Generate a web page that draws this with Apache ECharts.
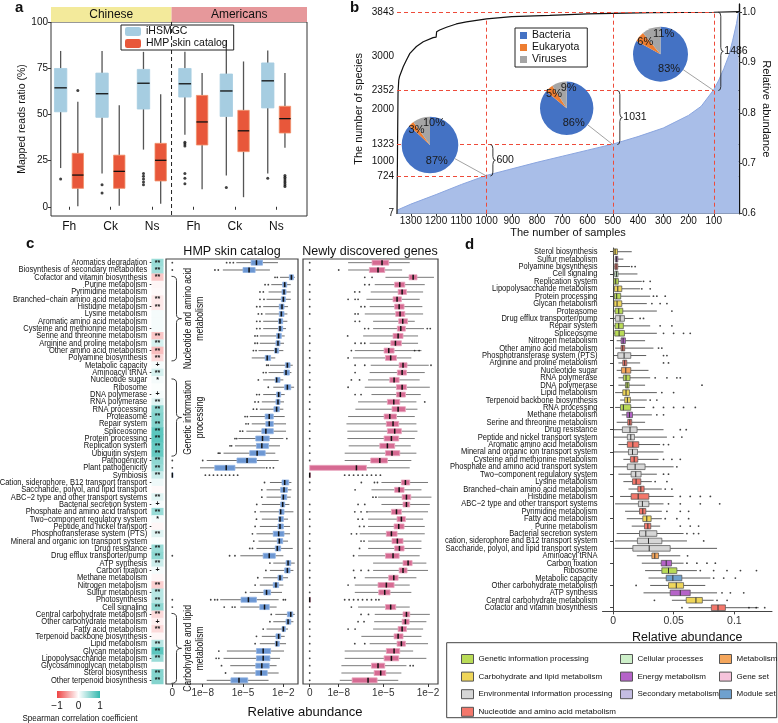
<!DOCTYPE html>
<html>
<head>
<meta charset="utf-8">
<script src="https://cdn.jsdelivr.net/npm/echarts@6/dist/echarts.min.js"></script>
<style>
html, body { margin: 0; padding: 0; background: #fff; }
#chart { width: 778px; height: 723px; }
</style>
</head>
<body>
<div id="chart"></div>
<script>
const FONT = "'Liberation Sans', Arial, sans-serif";

// ---- panel a: mapped reads ratio (%) ----
const aGroups = ["Fh", "Ck", "Ns", "Fh", "Ck", "Ns"];
// [whisker low, Q1, median, Q3, whisker high]
const aIHSMGC = [
  [21, 51.5, 64.5, 75, 84.5], [18, 48.5, 61.3, 72.5, 84.5], [31, 53, 67, 74.5, 84],
  [39, 59.5, 66.7, 75, 84], [17, 49, 62.8, 72, 90.5], [18, 53.6, 68.3, 78, 84.7]
];
const aHMP = [
  [0.3, 10, 17.2, 29, 57], [0.5, 10, 19.2, 28, 55], [1.6, 14, 25.2, 34.4, 61],
  [9.5, 33.5, 46, 60.4, 72.5], [5.2, 29.9, 41.2, 52.3, 78.8], [32, 40, 47.8, 54.5, 72.5]
];
const aIHSMGCOut = [[1, 15], [2, 12], [2, 7.5], [3, 12], [3, 13.5], [3, 15], [3, 16.5], [3, 18],
  [4, 33], [4, 34], [4, 35], [4, 12.5], [4, 15.5], [4, 18], [5, 10.5], [6, 15.5]];
const aHMPOut = [[1, 63], [6, 11], [6, 12], [6, 13], [6, 14], [6, 15], [6, 16], [6, 17]];

// ---- panel b: species accumulation ----
const bSampleTicks = [100, 200, 300, 400, 500, 600, 700, 800, 900, 1000, 1100, 1200, 1300];
const speciesTicks = [7, 724, 1000, 1323, 2000, 2352, 3000, 3843, 4000];
const abundTicks = [0.6, 0.7, 0.8, 0.9, 1.0];
const bAbundSamples = [1355, 1300, 1200, 1100, 1000, 900, 800, 700, 600, 500, 400, 300, 200, 150, 100, 80, 60, 40, 25, 10, 3, 0];
const bAbundance = [0.607, 0.619, 0.638, 0.658, 0.676, 0.689, 0.702, 0.714, 0.726, 0.738, 0.753, 0.770, 0.795, 0.813, 0.846, 0.865, 0.888, 0.914, 0.944, 0.977, 0.997, 1.0];
const bCurveSamples = [1355, 1353, 1351, 1348, 1345, 1330, 1318, 1304, 1278, 1251, 1212, 1200, 1198, 1186, 1159, 1120, 1080, 1000, 900, 750, 600, 500, 350, 100, 0];
const bSpecies = [7, 1200, 2300, 2550, 2620, 2810, 2930, 3060, 3190, 3280, 3360, 3370, 3470, 3505, 3557, 3620, 3658, 3715, 3760, 3785, 3811, 3823, 3836, 3843, 3853];
const guideSamples = [1000, 500, 100];
const guideSpecies = [724, 1323, 2352];
const guideTop = [3715, 3843, 3843];
const totalSpecies = 3843;
const gapLabels = ["600", "1031", "1486"];
const pieNames = ["Bacteria", "Eukaryota", "Viruses"];
const pieShares = [[87, 3, 10], [86, 5, 9], [83, 6, 11]];

// ---- panel c: KEGG module abundance (log10) ----
const cPathways = ["Aromatics degradation", "Biosynthesis of secondary metabolites", "Cofactor and vitamin biosynthesis",
  "Purine metabolism", "Pyrimidine metabolism", "Branched\u2212chain amino acid metabolism", "Histidine metabolism",
  "Lysine metabolism", "Aromatic amino acid metabolism", "Cysteine and methionine metabolism",
  "Serine and threonine metabolism", "Arginine and proline metabolism", "Other amino acid metabolism",
  "Polyamine biosynthesis", "Metabolic capacity", "Aminoacyl tRNA", "Nucleotide sugar", "Ribosome",
  "DNA polymerase", "RNA polymerase", "RNA processing", "Proteasome", "Repair system", "Spliceosome",
  "Protein processing", "Replication system", "Ubiquitin system", "Pathogenicity", "Plant pathogenicity",
  "Symbiosis", "Cation, siderophore, B12 transport transport", "Saccharide, polyol, and lipid transport",
  "ABC\u22122 type and other transport systems", "Bacterial secretion system", "Phosphate and amino acid transport",
  "Two\u2212component regulatory system", "Peptide and nickel transport", "Phosphotransferase system (PTS)",
  "Mineral and organic ion transport system", "Drug resistance", "Drug efflux transporter/pump", "ATP synthesis",
  "Carbon fixation", "Methane metabolism", "Nitrogen metabolism", "Sulfur metabolism", "Photosynthesis",
  "Cell signaling", "Central carbohydrate metabolism", "Other carbohydrate metabolism", "Fatty acid metabolism",
  "Terpenoid backbone biosynthesis", "Lipid metabolism", "Glycan metabolism", "Lipopolysaccharide metabolism",
  "Glycosaminoglycan metabolism", "Sterol biosynthesis", "Other terpenoid biosynthesis"];
const cCorr = [0.5, 0.45, -0.3, -0.05, -0.03, -0.12, -0.12, 0.05, 0.05, 0.05, -0.3, 0.2, -0.35, -0.2, 0.05,
  0.2, 0.05, 0.02, 0.05, 0.15, 0.55, 0.6, 0.6, 0.8, 0.8, 0.75, 0.75, 0.55, 0.5, 0.25, 0.08, -0.03, 0.15,
  0.05, 0.5, 0.05, -0.05, 0.15, 0.03, 0.5, 0.55, 0.25, 0.05, -0.05, -0.25, 0.35, 0.35, 0.55, -0.2, -0.08,
  -0.2, -0.05, 0.35, 0.8, 0.5, 0.02, 0.6, 0.6];
const cSig = ["**", "**", "**", "", "", "**", "**", "", "", "", "**", "**", "**", "**", "+", "**", "*", "", "+",
  "**", "**", "**", "**", "**", "**", "**", "**", "**", "**", "**", "", "", "**", "+", "**", "*", "", "**", "",
  "**", "**", "**", "+", "", "**", "**", "**", "**", "**", "+", "**", "", "**", "**", "**", "", "**", "**"];
// log10 relative abundance [low, Q1, median, Q3, high]; 0 marks zero abundance
const cHmp = [
  [-5.5, -4.4, -4.0, -3.55, -2.4], [-6.5, -5.0, -4.55, -4.1, -3.0], [-2.25, -1.55, -1.4, -1.25, -1.15],
  [-2.9, -2.05, -1.9, -1.75, -1.45], [-3.1, -2.1, -1.95, -1.8, -1.45], [-3.25, -2.15, -2.0, -1.85, -1.45],
  [-3.5, -2.3, -2.1, -1.95, -1.65], [-3.35, -2.3, -2.15, -1.95, -1.7], [-3.5, -2.35, -2.25, -2.05, -1.7],
  [-3.5, -2.35, -2.25, -2.05, -1.8], [-3.75, -2.5, -2.35, -2.15, -1.9], [-3.75, -2.55, -2.4, -2.25, -1.95],
  [-3.85, -2.65, -2.55, -2.35, -2.0], [-4.35, -3.35, -3.2, -2.95, -2.6], [-3.0, -1.85, -1.7, -1.5, -1.3],
  [-3.1, -1.95, -1.8, -1.55, -1.4], [-3.5, -2.6, -2.5, -2.25, -2.0], [-2.75, -1.9, -1.7, -1.45, -1.2],
  [-3.5, -2.5, -2.35, -2.2, -1.9], [-3.6, -2.55, -2.4, -2.25, -1.95], [-3.75, -2.7, -2.5, -2.3, -2.0],
  [-4.5, -3.35, -3.05, -2.75, -1.9], [-4.35, -3.3, -3.05, -2.75, -1.8], [-4.75, -3.6, -3.3, -2.75, -1.8],
  [-5.35, -4.05, -3.55, -3.05, -2.0], [-5.6, -4.0, -3.6, -3.1, -2.25], [-6.45, -4.5, -3.95, -3.35, -2.6],
  [-7.7, -5.45, -4.7, -4.0, -2.35], [-8.2, -7.1, -6.25, -5.6, -3.35], [0, 0, 0, 0, 0],
  [-3.0, -2.1, -1.9, -1.6, -1.4], [-3.25, -2.2, -1.95, -1.7, -1.4], [-3.25, -2.15, -2.0, -1.75, -1.45],
  [-3.6, -2.2, -2.05, -1.9, -1.55], [-3.75, -2.3, -2.2, -1.95, -1.25], [-3.6, -2.35, -2.25, -2.0, -1.65],
  [-3.75, -2.4, -2.25, -2.0, -1.5], [-4.0, -2.75, -2.35, -1.95, -1.5], [-3.85, -2.45, -2.3, -2.05, -1.65],
  [-4.0, -2.6, -2.45, -2.2, -1.3], [-5.2, -3.5, -3.05, -2.6, -2.0], [-2.75, -1.8, -1.65, -1.45, -1.15],
  [-3.0, -1.9, -1.7, -1.5, -1.25], [-3.5, -2.4, -2.25, -2.05, -1.65], [-3.75, -2.75, -2.55, -2.35, -2.0],
  [-4.5, -3.45, -3.25, -2.95, -2.1], [-6.7, -5.15, -4.6, -4.0, -2.35], [-5.2, -3.75, -3.4, -3.05, -2.5],
  [-2.6, -1.7, -1.45, -1.3, -1.15], [-2.75, -1.8, -1.65, -1.45, -1.25], [-3.25, -2.1, -2.0, -1.85, -1.65],
  [-3.6, -2.55, -2.35, -2.2, -1.9], [-3.75, -2.6, -2.5, -2.3, -1.8], [-6.2, -4.0, -3.5, -2.95, -1.95],
  [-6.45, -4.0, -3.5, -3.0, -2.25], [-5.95, -4.05, -3.6, -3.05, -2.5], [-5.7, -4.05, -3.65, -3.2, -2.35],
  [-7.7, -5.9, -5.3, -4.65, -3.1]
];
const cHmpOut = [[-6.22, -5.97, -5.72], [-7.09, -6.84], [-2.62, -2.45], [-3.36, -3.12], [-3.74, -3.49],
  [-3.74, -3.44], [-3.98, -3.74], [-3.86, -3.61], [-3.98, -3.74], [-3.98, -3.74], [-4.11, -3.93],
  [-4.11, -3.93], [-4.23, -4.03], [], [-3.24, -3.12], [-3.49, -3.29], [-3.86], [-3.12], [-3.98, -3.79],
  [-4.11, -3.86], [-4.23, -3.98], [-4.85, -4.68], [-4.78, -4.61], [-5.22, -5.03], [-5.6, -5.47, -1.74],
  [-5.97, -5.85], [-6.84, -6.72], [-8.0], [-3.24, -2.99, -2.74], [-7.8, -7.5, -7.2, -6.9, -6.6, -6.3, -6.0, -5.7, -5.4],
  [-3.4], [-3.6], [-3.6], [-3.98], [-4.1], [-4.0], [-4.1], [-4.3], [-4.2], [-4.5, -4.3], [-6.0, -5.6],
  [-3.0], [-3.3], [-3.9], [-4.1], [-4.8], [-7.4, -7.1, -6.9, -2.0, -1.85], [-6.4, -5.8, -5.6], [-2.9],
  [-3.0], [-3.5], [-4.0], [-4.1], [-6.8], [-7.0, -6.8], [-6.6], [-6.3], []];
const cHmpZeroRows = [0, 1, 27, 28, 40, 46, 47];
const cNew = [
  [-7.37, -5.76, -5.09, -4.64, -3.23], [-7.37, -5.94, -5.36, -4.91, -3.74], [-4.86, -3.27, -3.0, -2.74, -1.6],
  [-5.58, -4.24, -3.9, -3.56, -2.22], [-5.85, -4.01, -3.74, -3.45, -2.33], [-6.14, -4.35, -4.08, -3.79, -2.56],
  [-5.92, -4.24, -3.94, -3.61, -2.38], [-6.25, -4.17, -3.88, -3.56, -2.33], [-5.69, -3.97, -3.7, -3.38, -2.89],
  [-5.69, -4.06, -3.83, -3.52, -2.27], [-6.36, -4.35, -4.01, -3.68, -2.67], [-5.92, -4.5, -4.19, -3.79, -2.67],
  [-6.92, -4.95, -4.64, -4.28, -2.44], [-7.04, -4.86, -4.51, -4.12, -3.12], [-5.85, -3.94, -3.68, -3.41, -1.95],
  [-5.92, -4.06, -3.74, -3.45, -2.22], [-6.03, -4.57, -4.28, -3.94, -2.56], [-6.25, -4.12, -3.74, -3.45, -1.88],
  [-5.8, -4.12, -3.86, -3.52, -2.49], [-6.7, -4.73, -4.3, -3.9, -2.78], [-6.88, -4.42, -4.01, -3.52, -2.71],
  [-7.37, -4.95, -4.57, -4.12, -2.89], [-7.48, -4.8, -4.35, -3.97, -2.78], [-7.42, -4.73, -4.24, -3.79, -2.71],
  [-7.42, -4.95, -4.46, -3.97, -2.89], [-7.33, -5.24, -4.73, -4.24, -3.16], [-7.6, -4.86, -4.42, -3.9, -2.78],
  [-7.6, -5.85, -5.24, -4.73, -3.12], [0, 0, -6.81, -6.14, -3.23], [0, 0, 0, 0, 0],
  [-5.13, -3.79, -3.52, -3.23, -2.0], [-5.8, -4.24, -3.94, -3.61, -2.44], [-5.36, -3.74, -3.45, -3.16, -1.77],
  [-5.13, -3.68, -3.45, -3.23, -1.88], [-6.03, -4.46, -4.12, -3.79, -2.0], [-6.03, -4.08, -3.79, -3.52, -2.33],
  [-6.03, -4.28, -3.97, -3.61, -2.22], [-6.59, -4.8, -4.46, -4.08, -2.22], [-6.03, -4.42, -4.06, -3.68, -2.44],
  [-6.03, -4.24, -3.92, -3.61, -2.44], [-6.7, -4.86, -4.35, -3.94, -2.56], [-5.69, -3.68, -3.34, -3.07, -2.11],
  [-5.69, -3.94, -3.68, -3.41, -2.0], [-6.25, -4.64, -4.3, -4.01, -2.78], [-6.92, -5.36, -4.8, -4.28, -3.23],
  [-6.92, -5.31, -4.91, -4.55, -3.12], [0, 0, 0, 0, 0], [-6.7, -4.86, -4.51, -4.17, -3.23],
  [-5.58, -3.68, -3.45, -3.23, -1.88], [-5.62, -3.74, -3.52, -3.27, -2.11], [-5.69, -4.01, -3.74, -3.45, -2.33],
  [-6.48, -4.28, -4.01, -3.68, -2.44], [-5.92, -4.08, -3.79, -3.52, -2.0], [-7.6, -4.8, -4.28, -3.9, -3.0],
  [-7.6, -4.95, -4.46, -3.97, -2.11], [-7.82, -5.8, -5.36, -4.91, -3.45], [-7.82, -5.62, -5.18, -4.84, -3.79],
  [-7.93, -7.1, -6.03, -5.42, -4.0]
];
const cNewOut = [[], [-8.0], [-6.25, -5.76], [-6.25, -5.95], [-6.92, -6.6], [-7.37, -6.9, -6.7], [-6.5, -6.25],
  [-6.9, -6.7], [-6.9, -6.6], [-6.25, -6.0, -2.05, -1.85], [-7.4], [-6.9, -6.5, -6.25], [-7.15, -2.9, -2.6],
  [-7.37], [-6.9, -6.25, -1.8], [-6.9], [-7.15, -6.6], [-7.37], [-6.9, -6.5], [-2.22], [], [], [], [], [], [],
  [], [], [], [-7.6, -7.3, -7.0, -6.7, -6.4, -6.1, -5.8, -5.5, -5.2], [-6.48, -5.6, -5.4], [-6.9], [-5.7, -5.5],
  [-6.7, -6.25], [-6.92, -6.5, -6.1], [-6.7, -6.4], [-6.6, -6.3], [-7.15, -6.8], [-6.5, -6.3], [-6.6], [-7.0],
  [], [-7.0, -6.5, -6.0], [-6.92], [-7.37], [], [-7.6, -7.3, -7.0, -6.7, -6.4, -6.1, -5.8, -5.5, -5.3], [-7.15],
  [-6.5, -6.0], [-6.7, -6.3], [-7.37, -6.9], [], [-6.92, -6.25], [], [], [-3.2, -3.0], [], []];
const cNewNoZeroRows = [2, 8, 28, 29, 32, 46];
const cGroupLabels = ["Nucleotide and amino acid\nmetabolism", "Genetic information\nprocessing", "Carbohydrate and lipid\nmetabolism"];
const cGroupRows = [[2, 13], [16, 26], [48, 57]];
const corrTicks = [-1, 0, 1];

// ---- panel d: relative abundance by category ----
const dGroups = ["Genetic information processing", "Carbohydrate and lipid metabolism",
  "Environmental information processing", "Nucleotide and amino acid metabolism", "Cellular processes",
  "Energy metabolism", "Secondary metabolism", "Metabolism", "Gene set", "Module set"];
const dGroupColors = ["#B9DB57", "#EFD65A", "#D6D6D6", "#F3776B", "#CDEFC9", "#B563C8", "#C4BDE2", "#F4A65C", "#F6C3DB", "#6FA1CE"];
const dPathways = ["Sterol biosynthesis", "Sulfur metabolism", "Polyamine biosynthesis", "Cell signaling",
  "Replication system", "Lipopolysaccharide metabolism", "Protein processing", "Glycan metabolism", "Proteasome",
  "Drug efflux transporter/pump", "Repair system", "Spliceosome", "Nitrogen metabolism", "Other amino acid metabolism",
  "Phosphotransferase system (PTS)", "Arginine and proline metabolism", "Nucleotide sugar", "RNA polymerase",
  "DNA polymerase", "Lipid metabolism", "Terpenoid backbone biosynthesis", "RNA processing", "Methane metabolism",
  "Serine and threonine metabolism", "Drug resistance", "Peptide and nickel transport system",
  "Aromatic amino acid metabolism", "Mineral and organic ion transport system", "Cysteine and methionine metabolism",
  "Phosphate and amino acid transport system", "Two\u2212component regulatory system", "Lysine metabolism",
  "Branched\u2212chain amino acid metabolism", "Histidine metabolism", "ABC\u22122 type and other transport systems",
  "Pyrimidine metabolism", "Fatty acid metabolism", "Purine metabolism", "Bacterial secretion system",
  "cation, siderophore and B12 transport system", "Saccharide, polyol, and lipid transport system",
  "Aminoacyl tRNA", "Carbon fixation", "Ribosome", "Metabolic capacity", "Other carbohydrate metabolism",
  "ATP synthesis", "Central carbohydrate metabolism", "Cofactor and vitamin biosynthesis"];
const dRowGroup = [1, 5, 3, 4, 0, 1, 0, 1, 0, 2, 0, 0, 5, 3, 2, 3, 7, 0, 0, 1, 1, 0, 5, 3, 2, 2, 3, 2, 3, 2,
  2, 3, 3, 3, 2, 3, 1, 3, 2, 2, 2, 7, 5, 0, 9, 1, 5, 1, 3];
const dStats = [
  [0.0000, 0.0003, 0.0017, 0.0036, 0.0154], [0.0014, 0.0019, 0.0028, 0.0039, 0.0085], [0.0011, 0.0014, 0.0025, 0.0039, 0.0140],
  [0.0003, 0.0014, 0.0028, 0.0041, 0.0201], [0.0003, 0.0006, 0.0022, 0.0044, 0.0237], [0.0003, 0.0011, 0.0039, 0.0072, 0.0223],
  [0.0003, 0.0011, 0.0030, 0.0063, 0.0306], [0.0003, 0.0008, 0.0033, 0.0072, 0.0278], [0.0003, 0.0017, 0.0047, 0.0080, 0.0361],
  [0.0003, 0.0019, 0.0058, 0.0094, 0.0168], [0.0003, 0.0017, 0.0047, 0.0085, 0.0306], [0.0003, 0.0014, 0.0050, 0.0094, 0.0361],
  [0.0030, 0.0066, 0.0083, 0.0102, 0.0264], [0.0017, 0.0066, 0.0080, 0.0096, 0.0333], [0.0003, 0.0039, 0.0091, 0.0146, 0.0273],
  [0.0044, 0.0080, 0.0096, 0.0113, 0.0223], [0.0030, 0.0069, 0.0105, 0.0146, 0.0292], [0.0044, 0.0085, 0.0107, 0.0140, 0.0306],
  [0.0044, 0.0102, 0.0116, 0.0132, 0.0264], [0.0017, 0.0080, 0.0107, 0.0135, 0.0361], [0.0058, 0.0096, 0.0118, 0.0143, 0.0278],
  [0.0017, 0.0061, 0.0085, 0.0146, 0.0264], [0.0072, 0.0113, 0.0135, 0.0160, 0.0320], [0.0030, 0.0121, 0.0138, 0.0154, 0.0264],
  [0.0003, 0.0077, 0.0140, 0.0198, 0.0416], [0.0003, 0.0118, 0.0146, 0.0176, 0.0444], [0.0044, 0.0118, 0.0163, 0.0212, 0.0388],
  [0.0003, 0.0127, 0.0160, 0.0201, 0.0416], [0.0085, 0.0143, 0.0174, 0.0204, 0.0375], [0.0003, 0.0118, 0.0182, 0.0264, 0.0499],
  [0.0044, 0.0149, 0.0187, 0.0231, 0.0361], [0.0085, 0.0160, 0.0190, 0.0229, 0.0320], [0.0127, 0.0204, 0.0229, 0.0256, 0.0402],
  [0.0058, 0.0149, 0.0207, 0.0295, 0.0499], [0.0017, 0.0209, 0.0242, 0.0295, 0.0416], [0.0099, 0.0218, 0.0245, 0.0270, 0.0402],
  [0.0113, 0.0245, 0.0278, 0.0314, 0.0402], [0.0154, 0.0259, 0.0287, 0.0311, 0.0388], [0.0030, 0.0218, 0.0270, 0.0361, 0.0581],
  [0.0017, 0.0201, 0.0292, 0.0402, 0.0609], [0.0011, 0.0163, 0.0298, 0.0471, 0.0857], [0.0196, 0.0320, 0.0344, 0.0375, 0.0554],
  [0.0237, 0.0397, 0.0438, 0.0482, 0.0581], [0.0264, 0.0402, 0.0457, 0.0526, 0.0691], [0.0292, 0.0438, 0.0493, 0.0567, 0.0802],
  [0.0306, 0.0457, 0.0521, 0.0581, 0.0760], [0.0251, 0.0471, 0.0554, 0.0636, 0.0857], [0.0485, 0.0603, 0.0683, 0.0736, 0.0829],
  [0.0622, 0.0810, 0.0865, 0.0926, 0.1200]
];
const dOut = [[], [], [0.0154, 0.0182], [], [0.0251, 0.0306], [0.0237, 0.0306], [0.0333, 0.0361, 0.0430],
  [0.0320, 0.0388, 0.0444], [0.0485], [0.0223, 0.0251], [0.0388, 0.0485], [0.0416, 0.0499, 0.0581, 0.0636], [],
  [0.0375, 0.0402], [0.0416, 0.0444], [0.0416, 0.0457], [], [0.0347, 0.0444, 0.0526, 0.0554], [0.0733],
  [0.0402, 0.0499], [0.0306, 0.0361], [0.0333, 0.0416, 0.0499, 0.0581, 0.0678], [0.0361, 0.0416], [],
  [0.0554, 0.0603], [0.0499, 0.0567], [0.0416, 0.0457], [], [0.0416, 0.0485, 0.0554], [0.0526], [0.0416, 0.0457],
  [0.0347, 0.0444], [0.0430, 0.0485], [0.0554, 0.0636, 0.0719, 0.0802], [0.0457, 0.0554, 0.0719, 0.0879],
  [0.0444, 0.0554, 0.0623], [0.0430, 0.0526, 0.0623], [0.0554, 0.0636, 0.0705], [0.0609, 0.0664, 0.0705],
  [0.0747], [], [0.0614], [0.0609, 0.0691, 0.0774, 0.0843], [0.0719, 0.0829, 0.0939, 0.1050, 0.1182],
  [0.0829, 0.0912, 0.1008], [0.0190], [0.0898, 0.0967, 0.1077], [0.0341, 0.0857, 0.0940], [0.0568, 0.1120, 0.1180, 0.1250]];
const dTicks = [0, 0.05, 0.1];

// ---- layout / style ----
const HMP_ZERO = -10.26;
const NEW_ZERO = -9.95;
const HEAT_LEFT = 151.7;
const D_LEFT = 602.5;
const corrColors = ["#EE4444", "#FFFFFF", "#33B8AE"];
const pieColors = ["#4472C4", "#ED7D31", "#A5A5A5"];
const pieCenters = [[430, 145], [566.7, 108.3], [660.5, 54.2]];
const pieRadius = [28.3, 26.7, 27.5];
const braceAt = [985, 482, 82];
const aDivider = 3.47;

const chart = echarts.init(document.getElementById("chart"));

function vBox(offset, halfW, fill, stroke) {
  return function (params, api) {
    const x = api.value(0);
    const m = api.coord([x, api.value(3)]);
    const cx = m[0] + offset;
    const yLow = api.coord([x, api.value(1)])[1];
    const yQ1 = api.coord([x, api.value(2)])[1];
    const yQ3 = api.coord([x, api.value(4)])[1];
    const yHigh = api.coord([x, api.value(5)])[1];
    const w = { stroke: "#555", lineWidth: 1.3 };
    return {
      type: "group", children: [
        { type: "line", shape: { x1: cx, y1: yHigh, x2: cx, y2: yQ3 }, style: w },
        { type: "line", shape: { x1: cx, y1: yQ1, x2: cx, y2: yLow }, style: w },
        { type: "rect", shape: { x: cx - halfW, y: yQ3, width: 2 * halfW, height: yQ1 - yQ3 }, style: { fill: fill, stroke: stroke, lineWidth: 0.8 } },
        { type: "line", shape: { x1: cx - halfW, y1: m[1], x2: cx + halfW, y2: m[1] }, style: { stroke: "#111", lineWidth: 1.3 } }
      ]
    };
  };
}

function hBox(o) {
  return function (params, api) {
    const r = api.value(0);
    const pL = api.coord([api.value(1), r]);
    const p1 = api.coord([api.value(2), r]);
    const pM = api.coord([api.value(3), r]);
    const p3 = api.coord([api.value(4), r]);
    const pH = api.coord([api.value(5), r]);
    const cy = pM[1], h = o.h;
    const ws = { stroke: o.whisker, lineWidth: o.wl };
    return {
      type: "group", children: [
        { type: "line", shape: { x1: pL[0], y1: cy, x2: p1[0], y2: cy }, style: ws },
        { type: "line", shape: { x1: p3[0], y1: cy, x2: pH[0], y2: cy }, style: ws },
        { type: "rect", shape: { x: p1[0], y: cy - h / 2, width: Math.max(p3[0] - p1[0], 0.6), height: h },
          style: { fill: o.fill || api.visual("color"), stroke: o.stroke, lineWidth: o.sl } },
        { type: "line", shape: { x1: pM[0], y1: cy - h / 2, x2: pM[0], y2: cy + h / 2 }, style: { stroke: o.median, lineWidth: o.ml } }
      ]
    };
  };
}

const zeroTo = (z) => (v) => (v === 0 ? z : v);
const hmpVal = zeroTo(HMP_ZERO);
const newVal = zeroTo(NEW_ZERO);

const series = [];
// panel a
series.push({ name: "iHSMGC", type: "custom", xAxisIndex: 0, yAxisIndex: 0, itemStyle: { color: "#A6CDE1" },
  renderItem: vBox(-8.6, 6.2, "#A6CDE1", "#A6CDE1"), encode: { x: 0, y: [1, 2, 3, 4, 5] },
  data: aIHSMGC.map((s, i) => [i + 1].concat(s)), z: 3 });
series.push({ name: "HMP skin catalog", type: "custom", xAxisIndex: 0, yAxisIndex: 0, itemStyle: { color: "#E8573A" },
  renderItem: vBox(8.6, 5.7, "#E8573A", "#F0906A"), encode: { x: 0, y: [1, 2, 3, 4, 5] },
  data: aHMP.map((s, i) => [i + 1].concat(s)), z: 3 });
series.push({ type: "scatter", xAxisIndex: 0, yAxisIndex: 0, symbolSize: 3, symbolOffset: [-8.6, 0],
  itemStyle: { color: "#111" }, data: aIHSMGCOut, silent: true, z: 4 });
series.push({ type: "scatter", xAxisIndex: 0, yAxisIndex: 0, symbolSize: 3, symbolOffset: [8.6, 0],
  itemStyle: { color: "#111" }, data: aHMPOut, silent: true, z: 4 });

// panel b
const bMax = bAbundSamples[0];
series.push({ type: "line", xAxisIndex: 1, yAxisIndex: 2, showSymbol: false, silent: true, z: 1,
  lineStyle: { color: "#8AA5DF", width: 1 }, areaStyle: { color: "#A9BEE8", opacity: 1 },
  data: bAbundSamples.map((s, i) => [s, bAbundance[i]]) });
const guideLines = [[{ coord: [bMax, totalSpecies] }, { coord: [guideSamples[2], totalSpecies] }]];
guideSamples.forEach((s, k) => {
  guideLines.push([{ coord: [bMax, guideSpecies[k]] }, { coord: [s, guideSpecies[k]] }]);
  guideLines.push([{ coord: [s, speciesTicks[0]] }, { coord: [s, guideTop[k]] }]);
});
const speciesIdx = series.length;
series.push({ type: "line", xAxisIndex: 1, yAxisIndex: 1, showSymbol: false, silent: true, z: 3,
  lineStyle: { color: "#111", width: 1.2 }, data: bCurveSamples.map((s, i) => [s, bSpecies[i]]),
  markLine: { silent: true, symbol: ["none", "none"], label: { show: false }, animation: false,
    lineStyle: { color: "#EE4B3A", type: [4, 3], width: 1 }, data: guideLines } });
pieShares.forEach((sh, i) => {
  series.push({ type: "pie", center: pieCenters[i], radius: [0, pieRadius[i]], startAngle: 90, clockwise: true,
    silent: true, color: pieColors, z: 5, itemStyle: { borderWidth: 0 }, labelLine: { show: false },
    label: { show: true, position: "inside", fontSize: 11, color: "#1a1a1a",
      formatter: (p) => (p.dataIndex === 0 ? p.value + "%" : "") },
    data: pieNames.map((n, k) => ({ name: n, value: sh[k] })) });
});

// panel c
const heatIdx = series.length;
series.push({ type: "heatmap", xAxisIndex: 2, yAxisIndex: 3, silent: true,
  data: cCorr.map((v, i) => [0, i, v]),
  label: { show: true, fontSize: 7, fontWeight: "bold", color: "#111", formatter: (p) => cSig[p.data[1]] } });
series.push({ type: "custom", xAxisIndex: 3, yAxisIndex: 4, silent: true, encode: { x: [1, 2, 3, 4, 5], y: 0 },
  renderItem: hBox({ h: 5, fill: "#6C97D3", stroke: "#8FB1E2", sl: 0.8, whisker: "#6d6d6d", wl: 1, median: "#111", ml: 1.5 }),
  data: cHmp.map((s, i) => [i].concat(s.map(hmpVal))) });
const hmpPts = [];
cHmpOut.forEach((arr, i) => arr.forEach((v) => hmpPts.push([v, i])));
cHmpZeroRows.forEach((i) => hmpPts.push([HMP_ZERO, i]));
series.push({ type: "scatter", xAxisIndex: 3, yAxisIndex: 4, symbolSize: 1.8, silent: true, itemStyle: { color: "#111" }, data: hmpPts });
series.push({ type: "custom", xAxisIndex: 4, yAxisIndex: 5, silent: true, encode: { x: [1, 2, 3, 4, 5], y: 0 },
  renderItem: hBox({ h: 5, fill: "#D66A92", stroke: "#E9A3BC", sl: 0.8, whisker: "#7a7a7a", wl: 1, median: "#111", ml: 1.5 }),
  data: cNew.map((s, i) => [i].concat(s.map(newVal))) });
const newPts = [];
cNewOut.forEach((arr, i) => arr.forEach((v) => newPts.push([v, i])));
cPathways.forEach((p, i) => { if (cNewNoZeroRows.indexOf(i) < 0) newPts.push([NEW_ZERO, i]); });
series.push({ type: "scatter", xAxisIndex: 4, yAxisIndex: 5, symbolSize: 1.8, silent: true, itemStyle: { color: "#111" }, data: newPts });

// panel d
dGroups.forEach((g, k) => {
  series.push({ name: g, type: "custom", xAxisIndex: 5, yAxisIndex: 6, silent: true, itemStyle: { color: dGroupColors[k] },
    encode: { x: [1, 2, 3, 4, 5], y: 0 },
    renderItem: hBox({ h: 5.6, stroke: "#4d4d4d", sl: 0.7, whisker: "#333", wl: 0.8, median: "#333", ml: 1 }),
    data: dStats.map((s, i) => [i].concat(s)).filter((d, i) => dRowGroup[i] === k) });
});
const dPts = [];
dOut.forEach((arr, i) => arr.forEach((v) => dPts.push([v, i])));
series.push({ type: "scatter", xAxisIndex: 5, yAxisIndex: 6, symbolSize: 1.8, silent: true, itemStyle: { color: "#111" }, data: dPts });

const axisBase = {
  axisLine: { show: true, lineStyle: { color: "#333", width: 1 } },
  axisTick: { show: true, length: 3, lineStyle: { color: "#333" } },
  splitLine: { show: false }
};
const plain = (v) => String(v);
const legendBase = { selectedMode: false, orient: "vertical", textStyle: { color: "#111" } };
const dLegend = { itemWidth: 12, itemHeight: 9, itemGap: 7.6, icon: "rect", top: 649,
  itemStyle: { borderColor: "#555", borderWidth: 1 }, textStyle: { fontSize: 8, color: "#111" } };

const option = {
  animation: false,
  textStyle: { fontFamily: FONT, color: "#111" },
  grid: [
    { left: 51, top: 22, width: 256, height: 194, show: true, borderColor: "#333", borderWidth: 1 },
    { left: 397, top: 4, width: 342, height: 209.7 },
    { left: HEAT_LEFT, top: 259, width: 11.6, height: 425 },
    { left: 166, top: 259, width: 132, height: 425, show: true, borderColor: "#444", borderWidth: 1.2 },
    { left: 303, top: 259, width: 135, height: 425, show: true, borderColor: "#444", borderWidth: 1.2 },
    { left: D_LEFT, top: 248, width: 169.5, height: 363.4 }
  ],
  xAxis: [
    Object.assign({}, axisBase, { gridIndex: 0, type: "value", min: 0.56, max: 6.74, axisLine: { show: false },
      axisTick: { show: true, length: 3, customValues: [1, 2, 3, 4, 5, 6], lineStyle: { color: "#333" } },
      axisLabel: { customValues: [1, 2, 3, 4, 5, 6], fontSize: 12, margin: 5, color: "#111",
        formatter: (v) => aGroups[Math.round(v) - 1] } }),
    Object.assign({}, axisBase, { gridIndex: 1, type: "value", inverse: true, min: 0, max: bMax,
      axisTick: { show: true, length: 3, customValues: bSampleTicks, lineStyle: { color: "#333" } },
      axisLabel: { customValues: bSampleTicks, fontSize: 10, margin: 3, color: "#111", formatter: plain },
      name: "The number of samples", nameLocation: "middle", nameGap: 14, nameTextStyle: { fontSize: 11, color: "#111" } }),
    { gridIndex: 2, type: "category", data: [""], show: false },
    Object.assign({}, axisBase, { gridIndex: 3, type: "value", min: -10.73, max: -0.91, axisLine: { show: false },
      axisTick: { show: true, length: 3, customValues: [HMP_ZERO, -8, -5, -2], lineStyle: { color: "#333" } },
      axisLabel: { customValues: [HMP_ZERO, -8, -5, -2], fontSize: 10, margin: 4, color: "#333",
        formatter: (v) => (v < -9 ? "0" : "1e\u2212" + Math.round(-v)) } }),
    Object.assign({}, axisBase, { gridIndex: 4, type: "value", min: -10.4, max: -1.33, axisLine: { show: false },
      axisTick: { show: true, length: 3, customValues: [NEW_ZERO, -8, -5, -2], lineStyle: { color: "#333" } },
      axisLabel: { customValues: [NEW_ZERO, -8, -5, -2], fontSize: 10, margin: 4, color: "#333",
        formatter: (v) => (v < -9 ? "0" : "1e\u2212" + Math.round(-v)) } }),
    Object.assign({}, axisBase, { gridIndex: 5, type: "value", min: -0.0087, max: 0.131,
      axisLine: { show: true, lineStyle: { color: "#444" } },
      axisTick: { show: true, length: 3, customValues: dTicks, lineStyle: { color: "#444" } },
      axisLabel: { customValues: dTicks, fontSize: 10.5, margin: 4, color: "#333", formatter: plain },
      name: "Relative abundance", nameLocation: "middle", nameGap: 13, nameTextStyle: { fontSize: 12.5, color: "#111" } })
  ],
  yAxis: [
    Object.assign({}, axisBase, { gridIndex: 0, type: "value", min: -5, max: 100.2, axisLine: { show: false },
      axisTick: { show: true, length: 3, customValues: [0, 25, 50, 75, 100], lineStyle: { color: "#333" } },
      axisLabel: { customValues: [0, 25, 50, 75, 100], fontSize: 10, margin: 3, color: "#111" },
      name: "Mapped reads ratio (%)", nameLocation: "middle", nameGap: 22, nameTextStyle: { fontSize: 10.5, color: "#111" } }),
    Object.assign({}, axisBase, { gridIndex: 1, type: "value", min: speciesTicks[0], max: 4000, position: "left",
      axisLine: { show: true, lineStyle: { color: "#111", width: 1.2 } },
      axisTick: { show: true, length: 3, customValues: speciesTicks, lineStyle: { color: "#333" } },
      axisLabel: { customValues: speciesTicks, fontSize: 10, margin: 3, color: "#111", formatter: plain },
      name: "The number of species", nameLocation: "middle", nameGap: 33, nameTextStyle: { fontSize: 11, color: "#111" } }),
    Object.assign({}, axisBase, { gridIndex: 1, type: "value", min: 0.6, max: 1.016, position: "right",
      axisLine: { show: true, lineStyle: { color: "#111", width: 1.2 } },
      axisTick: { show: true, length: 3, customValues: abundTicks, lineStyle: { color: "#333" } },
      axisLabel: { customValues: abundTicks, fontSize: 10, margin: 3, color: "#111", formatter: (v) => v.toFixed(1) },
      name: "Relative abundance", nameLocation: "middle", nameGap: 22, nameRotate: -90, nameTextStyle: { fontSize: 11, color: "#111" } }),
    { gridIndex: 2, type: "category", data: cPathways, inverse: true,
      axisLine: { show: false }, axisTick: { show: true, length: 2, alignWithLabel: true, lineStyle: { color: "#333" } },
      axisLabel: { show: false } },
    { gridIndex: 3, type: "category", data: cPathways, inverse: true, show: false },
    { gridIndex: 4, type: "category", data: cPathways, inverse: true, show: false },
    { gridIndex: 5, type: "category", data: dPathways, inverse: true,
      axisLine: { show: true, lineStyle: { color: "#444" } },
      axisTick: { show: true, length: 3, alignWithLabel: true, lineStyle: { color: "#444" } },
      axisLabel: { show: false } }
  ],
  visualMap: [{ type: "continuous", show: false, min: -1, max: 1, dimension: 2, seriesIndex: heatIdx, inRange: { color: corrColors } }],
  legend: [
    Object.assign({}, legendBase, { data: ["iHSMGC", "HMP skin catalog"], left: 121, top: 25, itemWidth: 16, itemHeight: 9,
      itemGap: 1, padding: [1, 6, 1, 4], borderColor: "#222", borderWidth: 1, textStyle: { fontSize: 10.5, color: "#111" } }),
    Object.assign({}, legendBase, { data: pieNames, left: 515, top: 28, itemWidth: 7, itemHeight: 7, icon: "rect",
      itemGap: 1, padding: [2, 8, 2, 5], borderColor: "#222", borderWidth: 1, textStyle: { fontSize: 10.5, color: "#111" } }),
    Object.assign({}, legendBase, dLegend, { data: dGroups.slice(0, 4), left: 456 }),
    Object.assign({}, legendBase, dLegend, { data: dGroups.slice(4, 7), left: 615 }),
    Object.assign({}, legendBase, dLegend, { data: dGroups.slice(7), left: 714 })
  ],
  series: series
};

chart.setOption(option);

// ---- annotations placed from the axes ----
const el = [];
function txt(x, y, text, size, extra, scaleX, rotation) {
  el.push({ type: "text", x: x, y: y, z: 100, silent: true, scaleX: scaleX || 1, rotation: rotation || 0,
    style: Object.assign({ text: text, fontSize: size, fontFamily: FONT, fill: "#111", textAlign: "center", textVerticalAlign: "middle" }, extra || {}) });
}
function brace(x, y1, y2, w) {
  const xm = x + w / 2, ym = (y1 + y2) / 2, r = Math.min(4, (y2 - y1) / 4);
  const st = { stroke: "#222", lineWidth: 0.9, fill: "none" };
  [
    { type: "bezierCurve", shape: { x1: x, y1: y1, cpx1: xm, cpy1: y1, x2: xm, y2: y1 + r } },
    { type: "line", shape: { x1: xm, y1: y1 + r, x2: xm, y2: ym - r } },
    { type: "bezierCurve", shape: { x1: xm, y1: ym - r, cpx1: xm, cpy1: ym, x2: x + w, y2: ym } },
    { type: "bezierCurve", shape: { x1: x + w, y1: ym, cpx1: xm, cpy1: ym, x2: xm, y2: ym + r } },
    { type: "line", shape: { x1: xm, y1: ym + r, x2: xm, y2: y2 - r } },
    { type: "bezierCurve", shape: { x1: xm, y1: y2 - r, cpx1: xm, cpy1: y2, x2: x, y2: y2 } }
  ].forEach((e) => { e.style = st; e.silent = true; e.z = 100; el.push(e); });
}

// panel letters
const letter = { fontWeight: "bold", textAlign: "left", textVerticalAlign: "top" };
txt(15, 0, "a", 15, letter);
txt(350, 0, "b", 15, letter);
txt(26, 236, "c", 15, letter);
txt(465, 237, "d", 15, letter);

// panel a strips and divider
const aPx = (x, y) => chart.convertToPixel({ seriesIndex: 0 }, [x, y]);
const aTop = aPx(0.56, 100.2), aBot = aPx(6.74, -5), aDiv = aPx(aDivider, 0)[0];
el.push({ type: "rect", silent: true, shape: { x: aTop[0], y: 7, width: aDiv - aTop[0], height: aTop[1] - 7 }, style: { fill: "#F3EA9B", stroke: "none" } });
el.push({ type: "rect", silent: true, shape: { x: aDiv, y: 7, width: aBot[0] - aDiv, height: aTop[1] - 7 }, style: { fill: "#E6989B", stroke: "none" } });
txt((aTop[0] + aDiv) / 2, 15, "Chinese", 12);
txt((aDiv + aBot[0]) / 2, 15, "Americans", 12);
el.push({ type: "line", silent: true, shape: { x1: aDiv, y1: aTop[1], x2: aDiv, y2: aBot[1] }, style: { stroke: "#222", lineWidth: 1, lineDash: [4, 3] } });

// panel b braces, gap labels, pie leader lines and small-slice labels
const sp = (s, v) => chart.convertToPixel({ seriesIndex: speciesIdx }, [s, v]);
const braceTops = [guideSpecies[1], guideSpecies[2], totalSpecies];
guideSpecies.forEach((g, k) => {
  const top = sp(braceAt[k], braceTops[k]), bot = sp(braceAt[k], g);
  brace(top[0], top[1], bot[1], 5);
  txt(top[0] + 6, (top[1] + bot[1]) / 2, gapLabels[k], 10.5, { textAlign: "left" });
  const tgt = sp(guideSamples[k], g), c = pieCenters[k];
  const dx = tgt[0] - c[0], dy = tgt[1] - c[1], d = Math.sqrt(dx * dx + dy * dy);
  el.push({ type: "line", silent: true, z: 4, shape: { x1: c[0] + dx / d * pieRadius[k], y1: c[1] + dy / d * pieRadius[k], x2: tgt[0], y2: tgt[1] },
    style: { stroke: "#8a8a8a", lineWidth: 0.8 } });
});
pieShares.forEach((sh, i) => {
  let cum = sh[0];
  [1, 2].forEach((k) => {
    const a = 2 * Math.PI * (cum + sh[k] / 2) / 100;
    const rr = pieRadius[i] * (k === 1 ? 0.72 : 0.8);
    txt(pieCenters[i][0] + rr * Math.sin(a), pieCenters[i][1] - rr * Math.cos(a), sh[k] + "%", 11,
      { textAlign: k === 1 ? "center" : "left", fill: "#1a1a1a" });
    cum += sh[k];
  });
});

// panel c row labels, titles, group braces, colour bar
cPathways.forEach((t, i) => {
  const p = chart.convertToPixel({ gridIndex: 2 }, [0, i]);
  txt(HEAT_LEFT - 4.5, p[1], t, 9, { textAlign: "right" }, 0.84);
});
txt(232, 252, "HMP skin catalog", 12.5);
txt(370, 252, "Newly discovered genes", 12.5);
const cPx = (r) => chart.convertToPixel({ gridIndex: 3 }, [HMP_ZERO, r]);
cGroupRows.forEach((rr, k) => {
  const y1 = cPx(rr[0])[1] - 1, y2 = cPx(rr[1])[1] + 3;
  brace(171.5, y1, y2, 10);
  txt(194, (y1 + y2) / 2, cGroupLabels[k], 10.5, { lineHeight: 12 }, 0.82, Math.PI / 2);
});
txt(305, 712, "Relative abundance", 13);
const barX = 57, barW = 43;
el.push({ type: "rect", silent: true, shape: { x: barX, y: 691, width: barW, height: 7 },
  style: { fill: new echarts.graphic.LinearGradient(0, 0, 1, 0, corrColors.map((c, i) => ({ offset: i / (corrColors.length - 1), color: c }))) } });
corrTicks.forEach((t) => txt(barX + (t + 1) / 2 * barW, 706, t < 0 ? "\u22121" : String(t), 10));
txt(80, 718, "Spearman correlation coefficient", 9.8, null, 0.82);

// panel d row labels and legend frame
dPathways.forEach((t, i) => {
  const p = chart.convertToPixel({ gridIndex: 5 }, [0, i]);
  txt(D_LEFT - 5, p[1], t, 9, { textAlign: "right" }, 0.84);
});
el.push({ type: "rect", silent: true, z: 0, shape: { x: 446.7, y: 642.7, width: 330, height: 75 }, style: { fill: "none", stroke: "#444", lineWidth: 1 } });

chart.setOption({ graphic: { elements: el } });
</script>
</body>
</html>
